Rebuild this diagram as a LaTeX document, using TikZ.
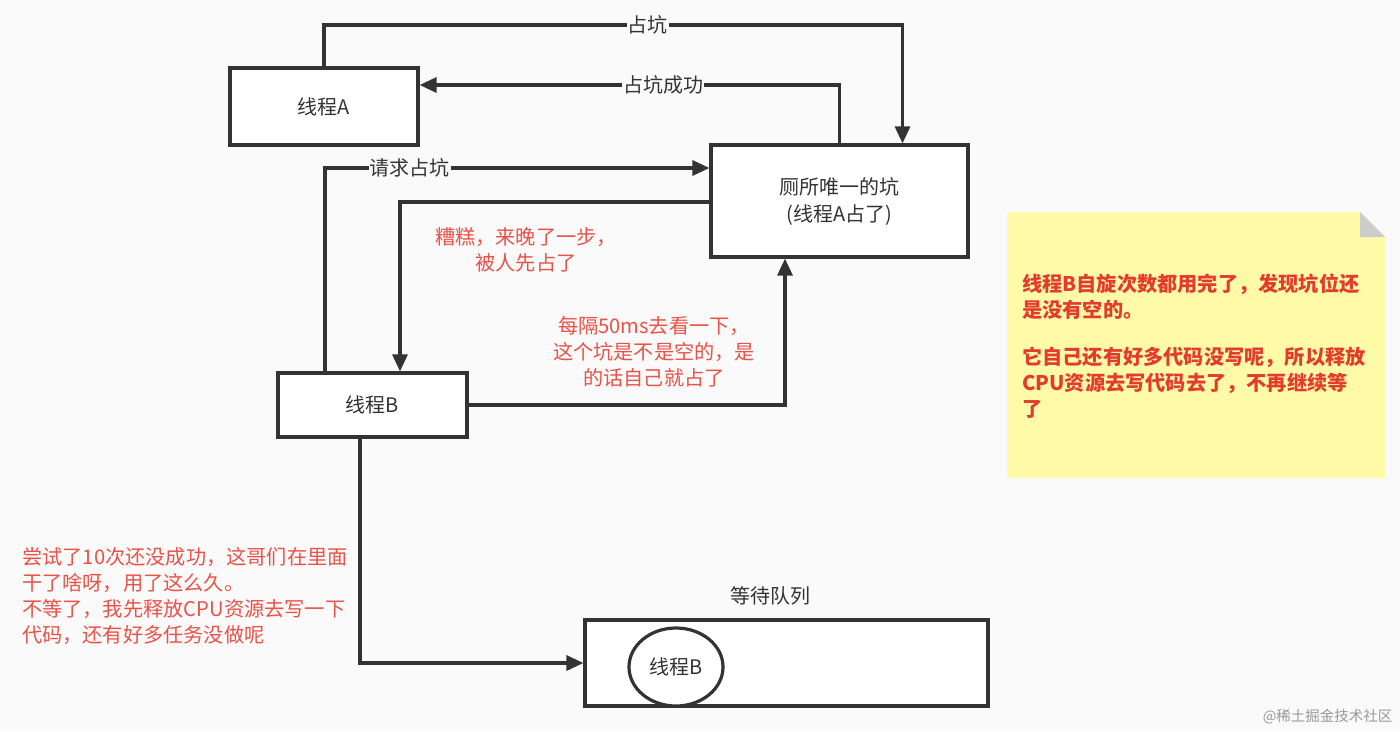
\documentclass[tikz,border=0pt]{standalone}
\usepackage{fontspec}
\setmainfont{Noto Sans CJK SC}
\usetikzlibrary{arrows.meta,shapes.geometric}
\definecolor{linegray}{HTML}{333333}
\definecolor{txtred}{HTML}{EA5248}
\definecolor{notered}{HTML}{E33B2E}
\definecolor{noteyellow}{HTML}{FFFAA8}
\definecolor{foldgray}{HTML}{CDCDCD}
\definecolor{bggray}{HTML}{FAFAFA}
\tikzset{
  box/.style={draw=linegray,line width=3.2pt,fill=white,text=linegray,inner sep=0pt,
    font=\fontsize{20}{27}\selectfont,align=center},
  arr/.style={draw=linegray,line width=3.2pt,-{Triangle[length=17pt,width=15pt]}},
  lbl/.style={fill=bggray,text=linegray,inner sep=1pt,font=\fontsize{20}{26}\selectfont},
  remark/.style={text=txtred,inner sep=0pt,font=\fontsize{20.2}{25.8}\selectfont}
}
\begin{document}
\begin{tikzpicture}[x=1pt,y=-1pt]
\fill[bggray] (0,0) rectangle (1400,731);
\useasboundingbox (0,0) rectangle (1400,731);
% boxes
\node[box,minimum width=188pt,minimum height=77pt] (A) at (324,106.5) {线程A};
\node[box,minimum width=257pt,minimum height=112pt] (T) at (839.5,201) {厕所唯一的坑\\(线程A占了)};
\node[box,minimum width=189pt,minimum height=64pt] (B) at (372.5,405) {线程B};
\node[box,minimum width=403pt,minimum height=86pt] (Q) at (786.5,663) {};
\node[box,ellipse,minimum width=94pt,minimum height=78pt] (Bq) at (676,667) {线程B};
\node[text=linegray,font=\fontsize{20}{26}\selectfont] (qname) at (770,596) {等待队列};
% connectors
\draw[arr] (A.north) -- (A.north |- 0,25) -| node[lbl,pos=0.28] (take) {占坑} ([xshift=63pt]T.north);
\draw[arr] (T.north) |- node[lbl,pos=0.71] (ok) {占坑成功} ([yshift=21.5pt]A.east);
\draw[arr] ([xshift=-47.5pt]B.north) |- node[lbl,pos=0.61] (ask) {请求占坑} ([yshift=33pt]T.west);
\draw[arr] ([yshift=-1pt]T.west) -| ([xshift=27.5pt]B.north);
\draw[arr] (B.east) -| ([xshift=-54.5pt]T.south);
\draw[arr] ([xshift=-12.5pt]B.south) |- (Q.west);
% red remarks
\node[remark,align=center] (late) at (526,250) {糟糕，来晚了一步，\\被人先占了};
\node[remark,align=center] (poll) at (654,352) {每隔50ms去看一下，\\这个坑是不是空的，是\\的话自己就占了};
\node[remark,align=left,anchor=west] (giveup) at (22,596) {尝试了10次还没成功，这哥们在里面\\干了啥呀，用了这么久。\\不等了，我先释放CPU资源去写一下\\代码，还有好多任务没做呢};
% note
\fill[noteyellow] (1007,212) -- (1360,212) -- (1385,237) -- (1385,478) -- (1007,478) -- cycle;
\fill[foldgray] (1360,212) -- (1385,237) -- (1360,237) -- cycle;
\node[text=notered,inner sep=0pt,anchor=north west,align=left,
  font=\fontsize{20.2}{26}\bfseries] (note) at (1022,274)
  {线程B自旋次数都用完了，发现坑位还\\是没有空的。\\[21pt]它自己还有好多代码没写呢，所以释放\\CPU资源去写代码去了，不再继续等\\了};
% watermark
\node[text=gray!80,font=\fontsize{14.5}{18}\selectfont,anchor=east] (mark) at (1396,717) {@稀土掘金技术社区};
\end{tikzpicture}
\end{document}
